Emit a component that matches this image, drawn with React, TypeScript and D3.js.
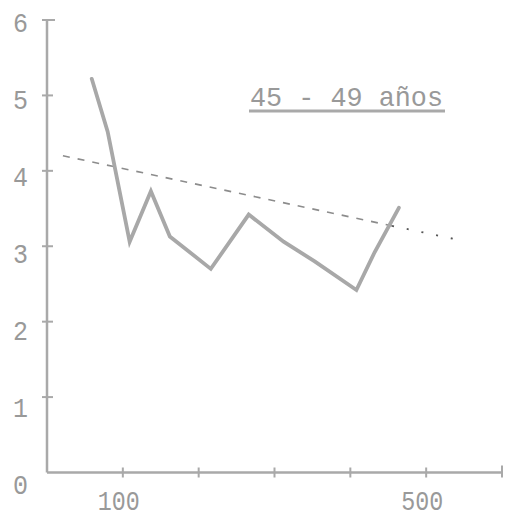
import React from "react";
import * as d3 from "d3";

const incomeX = [59, 80, 109, 137, 162, 216, 266, 312, 353, 408, 432, 464];
const rateY = [5.22, 4.52, 3.06, 3.73, 3.13, 2.7, 3.42, 3.06, 2.8, 2.42, 2.92, 3.51];
const trendDashedX = [21, 455];
const trendDashedY = [4.2, 3.27];
const trendDottedX = [455, 540];
const trendDottedY = [3.27, 3.09];
const yTicks = [0, 1, 2, 3, 4, 5, 6];
const xTicks = [100, 200, 300, 400, 500, 600];
const xTickLabels = ["100", "", "", "", "500", ""];
const title = "45 - 49 años";

const W = 507;
const H = 517;

export default function App() {
  const x = d3.scaleLinear().domain([0, 600]).range([47, 502]);
  const y = d3.scaleLinear().domain([0, 6]).range([472.5, 20]);
  const line = d3
    .line<[number, number]>()
    .x((d) => x(d[0]))
    .y((d) => y(d[1]));
  const pts: [number, number][] = incomeX.map((v, i) => [v, rateY[i]]);
  const dashPts: [number, number][] = trendDashedX.map((v, i) => [v, trendDashedY[i]]);
  const dotPts: [number, number][] = trendDottedX.map((v, i) => [v, trendDottedY[i]]);
  const axisColor = "#a9a9a9";
  const textColor = "#999";
  const mono = "'Liberation Mono', 'DejaVu Sans Mono', monospace";
  return (
    <svg
      width={W}
      height={H}
      style={{ position: "absolute", left: 0, top: 0, background: "#fff" }}
    >
      {/* y axis */}
      <line x1={x(0)} x2={x(0)} y1={y(6)} y2={y(0)} stroke={axisColor} strokeWidth={2.5} />
      {yTicks
        .filter((t) => t > 0)
        .map((t) => (
          <line
            key={"yt" + t}
            x1={x(0) - 5}
            x2={x(0) + (t === 6 ? 8 : 6)}
            y1={y(t)}
            y2={y(t)}
            stroke={axisColor}
            strokeWidth={2}
          />
        ))}
      {yTicks.map((t) => (
        <text
          key={"yl" + t}
          x={28}
          y={y(t) + 14 - 1.5 * t}
          textAnchor="end"
          dominantBaseline="middle"
          fontFamily={mono}
          fontSize={28}
          fill={textColor}
          textLength={15}
          lengthAdjust="spacingAndGlyphs"
        >
          {String(t)}
        </text>
      ))}
      {/* x axis */}
      <line x1={x(0)} x2={x(600)} y1={y(0)} y2={y(0)} stroke={axisColor} strokeWidth={2.5} />
      {xTicks.map((t) => (
        <line
          key={"xt" + t}
          x1={x(t)}
          x2={x(t)}
          y1={y(0) - (t === 600 ? 7 : 5)}
          y2={y(0) + 5}
          stroke={axisColor}
          strokeWidth={2}
        />
      ))}
      {xTicks.map((t, i) =>
        xTickLabels[i] ? (
          <text
            key={"xl" + t}
            x={x(t) - 4}
            y={503}
            textAnchor="middle"
            dominantBaseline="middle"
            fontFamily={mono}
            fontSize={28}
            fill={textColor}
            textLength={42}
            lengthAdjust="spacingAndGlyphs"
          >
            {xTickLabels[i]}
          </text>
        ) : null
      )}
      {/* trend */}
      <path
        d={line(dashPts) || ""}
        fill="none"
        stroke="#8c8c8c"
        strokeWidth={1.6}
        strokeDasharray="7,8"
      />
      <path
        d={line(dotPts) || ""}
        fill="none"
        stroke="#555"
        strokeWidth={1.8}
        strokeDasharray="2,13"
      />
      {/* data line */}
      <path
        d={line(pts) || ""}
        fill="none"
        stroke="#a8a8a8"
        strokeWidth={3.8}
        strokeLinejoin="miter"
        strokeLinecap="round"
      />
      {/* title */}
      <text
        x={250}
        y={106}
        fontFamily={mono}
        fontSize={28}
        fill={textColor}
        textLength={193}
        lengthAdjust="spacingAndGlyphs"
      >
        {title}
      </text>
      <line x1={249} x2={445} y1={111} y2={111} stroke={axisColor} strokeWidth={3} />
    </svg>
  );
}
